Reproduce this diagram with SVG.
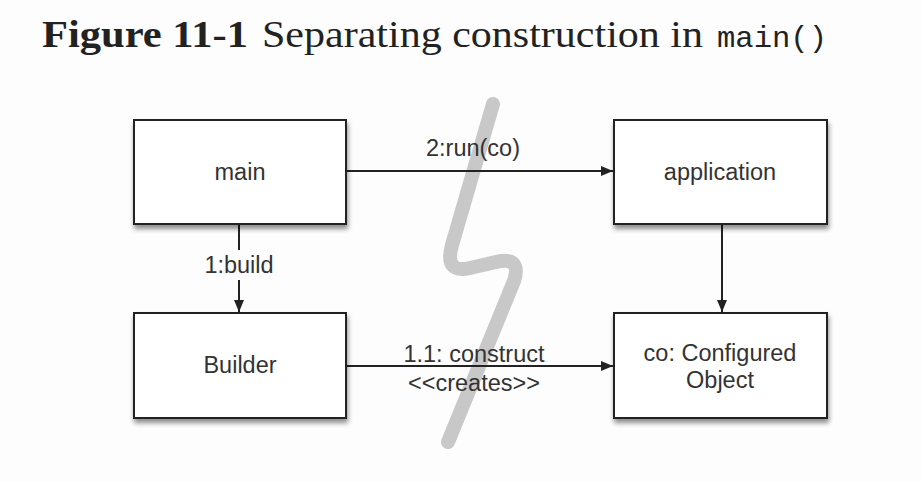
<svg xmlns="http://www.w3.org/2000/svg" width="922" height="482" viewBox="0 0 922 482">
<style>
.title{font-family:"Liberation Serif","DejaVu Serif",serif;fill:#222;font-size:38px}
.mono{font-family:"Liberation Mono","DejaVu Sans Mono",monospace;fill:#222;font-size:29px}
.box{fill:#fff;stroke:#222;stroke-width:2}
.lbl{font-family:"Liberation Sans",Arial,sans-serif;font-size:23.5px;fill:#333;text-anchor:middle}
.edge{fill:none;stroke:#222;stroke-width:2}
</style>
<defs>
<filter id="sh" x="-10%" y="-10%" width="130%" height="140%">
<feGaussianBlur in="SourceAlpha" stdDeviation="2.5"/>
<feOffset dx="1" dy="4" result="b"/>
<feComponentTransfer><feFuncA type="linear" slope="0.45"/></feComponentTransfer>
<feMerge><feMergeNode/><feMergeNode in="SourceGraphic"/></feMerge>
</filter>
<marker id="arr" viewBox="0 0 12 10" refX="12" refY="5" markerWidth="12" markerHeight="10" markerUnits="userSpaceOnUse" orient="auto">
<path d="M0,0 L12,5 L0,10 Z" fill="#222"/>
</marker>
</defs>
<rect width="922" height="482" fill="#fdfdfd"/>
<g id="title">
<text x="42" y="47" class="title" font-weight="bold" textLength="206" lengthAdjust="spacingAndGlyphs">Figure 11-1</text>
<text x="262" y="47" class="title" textLength="441" lengthAdjust="spacingAndGlyphs">Separating construction in</text>
<text x="717" y="47" class="mono" textLength="110" lengthAdjust="spacingAndGlyphs">main()</text>
</g>
<path id="separator" d="M493,104 L452,245 Q444,274 470,268 L496,262 Q522,256 514,281 L448,442" fill="none" stroke="#c8c8c8" stroke-width="14" stroke-linecap="round" stroke-linejoin="round"/>
<g id="connectors">
<line class="edge" x1="346" y1="171" x2="613" y2="171" marker-end="url(#arr)"/>
<text class="lbl" x="473" y="156">2:run(co)</text>
<line class="edge" x1="239" y1="224" x2="239" y2="250"/>
<text class="lbl" x="239" y="273">1:build</text>
<line class="edge" x1="239" y1="280" x2="239" y2="312" marker-end="url(#arr)"/>
<line class="edge" x1="722" y1="224" x2="722" y2="312" marker-end="url(#arr)"/>
<line class="edge" x1="346" y1="366" x2="613" y2="366" marker-end="url(#arr)"/>
<text class="lbl" x="474" y="362">1.1: construct</text>
<text class="lbl" x="474" y="391">&lt;&lt;creates&gt;&gt;</text>
</g>
<g id="main">
<rect class="box" x="134" y="120" width="212" height="104" filter="url(#sh)"/>
<text class="lbl" x="240" y="180">main</text>
</g>
<g id="application">
<rect class="box" x="614" y="120" width="213" height="104" filter="url(#sh)"/>
<text class="lbl" x="720" y="180">application</text>
</g>
<g id="builder">
<rect class="box" x="134" y="313" width="212" height="105" filter="url(#sh)"/>
<text class="lbl" x="240" y="373">Builder</text>
</g>
<g id="configured">
<rect class="box" x="614" y="313" width="213" height="105" filter="url(#sh)"/>
<text class="lbl" x="720" y="361">co: Configured</text>
<text class="lbl" x="720" y="388">Object</text>
</g>
</svg>
